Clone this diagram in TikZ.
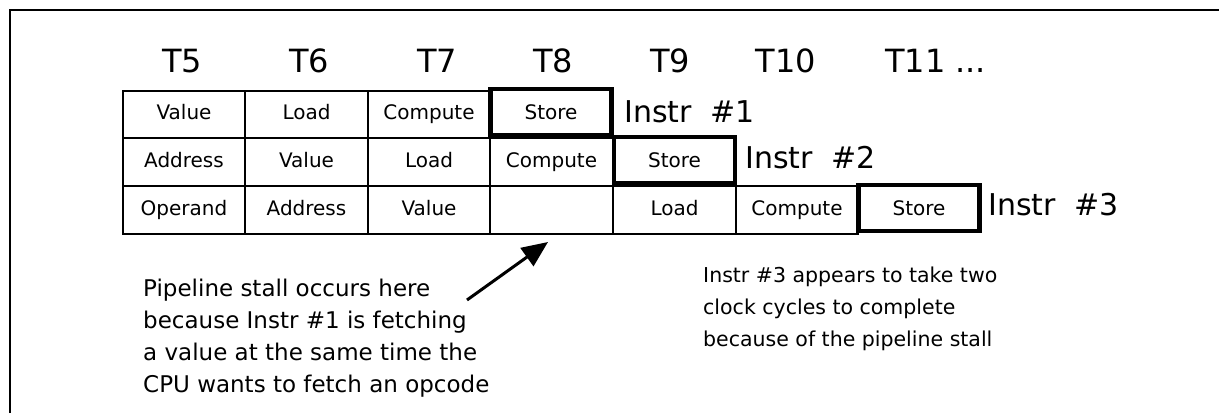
\documentclass[tikz,border=0pt]{standalone}
\usepackage{fontspec}
\setmainfont{DejaVu Sans}
\usetikzlibrary{arrows.meta}
\tikzset{
  cell/.style={draw, line width=2pt, minimum width=122.6pt, minimum height=47.7pt, inner sep=0pt, text height=14.6pt, text depth=4pt, font=\fontsize{20}{24}\selectfont},
  thickcell/.style={cell, line width=4.3pt, minimum width=121pt, minimum height=46pt, text height=16.8pt, text depth=2pt},
  hdr/.style={anchor=base, inner sep=0pt, font=\fontsize{32}{38}\selectfont},
  instr/.style={anchor=base west, inner sep=0pt, font=\fontsize{30}{36}\selectfont},
  note/.style={anchor=north west, inner sep=0pt, align=left, font=\fontsize{23}{32}\selectfont},
}
\begin{document}
\begin{tikzpicture}[x=1pt, y=-1pt]
\useasboundingbox (0,0) rectangle (1219,413);
% frame
\draw[line width=2pt] (10,413) -- (10,10) -- (1219,10);
% headers
\node[hdr] (h5) at (182,72) {T5};
\node[hdr] (h6) at (309,72) {T6};
\node[hdr] (h7) at (437,72) {T7};
\node[hdr] (h8) at (553,72) {T8};
\node[hdr] (h9) at (670,72) {T9};
\node[hdr] (h10) at (786,72) {T10};
\node[hdr, anchor=base west] (h11) at (885,72) {T11 ...};
% row 1
\node[cell] (a5) at (184,114.5) {Value};
\node[cell] (a6) at (306.5,114.5) {Load};
\node[cell] (a7) at (429,114.5) {Compute};
% row 2
\node[cell] (b5) at (184,162) {Address};
\node[cell] (b6) at (306.5,162) {Value};
\node[cell] (b7) at (429,162) {Load};
\node[cell] (b8) at (551.5,162) {Compute};
% row 3
\node[cell] (c5) at (184,210) {Operand};
\node[cell] (c6) at (306.5,210) {Address};
\node[cell] (c7) at (429,210) {Value};
\node[cell] (c8) at (551.5,210) {};
\node[cell] (c9) at (674.5,210) {Load};
\node[cell] (c10) at (797,210) {Compute};
% thick store boxes
\node[thickcell] (a8) at (551,112.3) {Store};
\node[thickcell] (b9) at (674.5,160) {Store};
\node[thickcell] (c11) at (919,208) {Store};
% instruction labels
\node[instr] (i1) at (624,122) {Instr\hspace{19pt}\#1};
\node[instr] (i2) at (745,168) {Instr\hspace{19pt}\#2};
\node[instr] (i3) at (988,215) {Instr\hspace{19pt}\#3};
% notes
\node[note] (n1) at (143,279) {Pipeline stall occurs here\\because Instr \#1 is fetching\\a value at the same time the\\CPU wants to fetch an opcode};
\node[note, font=\fontsize{20.5}{32}\selectfont] (n2) at (703,267) {Instr \#3 appears to take two\\clock cycles to complete\\because of the pipeline stall};
% arrow
\coordinate (tail) at (467,300);
\coordinate (tip) at (548,242);
\draw[line width=3pt, -{Triangle[length=26pt, width=22pt]}] (tail) -- (tip);
\end{tikzpicture}
\end{document}
